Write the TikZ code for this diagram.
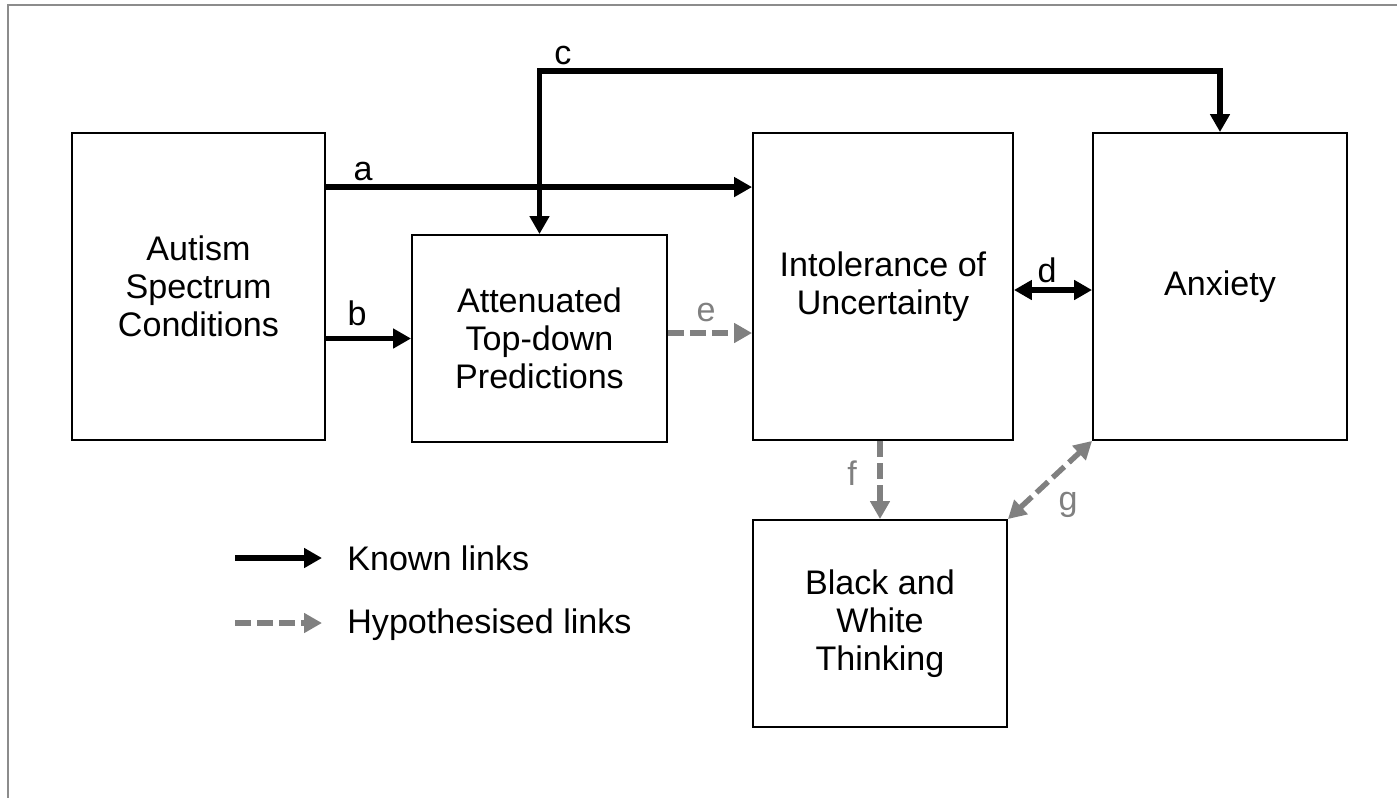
\documentclass[tikz,border=0pt]{standalone}
\usepackage{fontspec}
\setmainfont{Liberation Sans}
\usepackage{tikz}
\usetikzlibrary{arrows.meta}

\definecolor{hypgrey}{HTML}{808080}
\definecolor{edgegrey}{HTML}{8C8C8C}

\tikzset{
  box/.style={draw, line width=1.1pt, align=center, inner sep=0pt,
    font=\fontsize{19.4}{21.8}\selectfont},
  lbl/.style={inner sep=0pt, font=\fontsize{19.4}{21.8}\selectfont},
  known/.style={line width=3.1pt},
  hypo/.style={hypgrey, line width=3.1pt, dash pattern=on 9pt off 3.6pt},
  pageedge/.style={edgegrey, line width=1.6pt},
}

\begin{document}
\begin{tikzpicture}[x=0.02cm, y=-0.02cm, >={Triangle[length=10.2pt, width=10.8pt]}]
  \useasboundingbox (0, 0) rectangle (1397, 798);

  % Page edge
  \draw [pageedge] (8, 798) -- (8, 5) -- (1397, 5);

  % Boxes
  \node [box, minimum width=5.06cm, minimum height=6.14cm] (asc) at (198.5, 286.5)
    {Autism\\Spectrum\\Conditions};
  \node [box, minimum width=5.1cm, minimum height=4.14cm] (atp) at (539.5, 338.5)
    {Attenuated\\Top-down\\Predictions};
  \node [box, minimum width=5.2cm, minimum height=6.14cm] (iou) at (883, 286.5)
    {Intolerance of\\Uncertainty};
  \node [box, minimum width=5.08cm, minimum height=6.14cm] (anx) at (1220, 286.5)
    {Anxiety};
  \node [box, minimum width=5.08cm, minimum height=4.14cm] (bwt) at (880, 623.5)
    {Black and\\White\\Thinking};

  % Known links
  \draw [known, ->] ([yshift=-1.1cm]asc.north east) -- ([yshift=-1.1cm]iou.north west);
  \node [lbl] (la) at (363, 171) {a};
  \draw [known, ->] (asc.east |- atp.west) -- (atp.west);
  \node [lbl] (lb) at (357, 313) {b};
  \draw [known, <->] (atp.north) |- ([yshift=1.22cm]anx.north) -- (anx.north);
  \node [lbl] (lc) at (563, 55) {c};
  \draw [known, <->] ([yshift=-0.07cm]iou.east) -- ([yshift=-0.07cm]anx.west);
  \node [lbl] (ld) at (1047, 270) {d};

  % Hypothesised links
  \draw [hypo, ->] ([yshift=0.11cm]atp.east) -- ([yshift=0.11cm]atp.east -| iou.west);
  \node [lbl, hypgrey] (le) at (706, 312) {e};
  \draw [hypo, ->] (iou.south -| bwt.north) -- (bwt.north);
  \node [lbl, hypgrey] (lf) at (852, 473) {f};
  \draw [hypo, <->] (bwt.north east) -- (anx.south west);
  \node [lbl, hypgrey] (lg) at (1068, 505) {g};

  % Legend
  \coordinate (k1) at (235, 558);
  \coordinate (k2) at (322, 558);
  \draw [known, ->] (k1) -- (k2);
  \node [lbl, anchor=base west] (kt) at (347, 570) {Known links};
  \coordinate (h1) at (235, 623);
  \coordinate (h2) at (322, 623);
  \draw [hypo, ->] (h1) -- (h2);
  \node [lbl, anchor=base west] (ht) at (347, 633) {Hypothesised links};
\end{tikzpicture}
\end{document}
